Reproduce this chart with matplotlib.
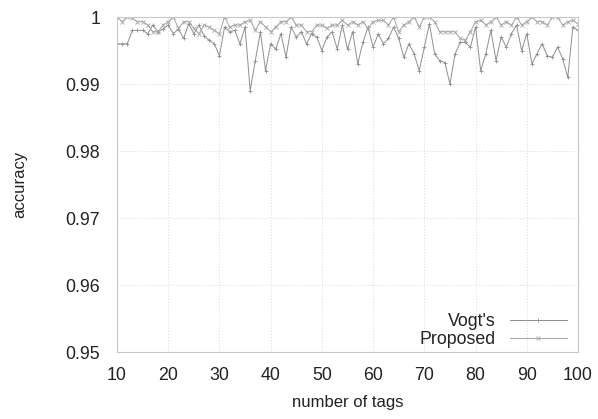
import numpy as np
import matplotlib
matplotlib.use("Agg")
import matplotlib.pyplot as plt

tags = list(range(10, 101))

vogt = [
    0.9960, 0.9960, 0.9960, 0.9980, 0.9980, 0.9980, 0.9975, 0.9988, 0.9978, 0.9982,
    0.9988, 0.9975, 0.9982, 0.9968, 0.9990, 0.9975, 0.9988, 0.9972, 0.9965, 0.9960,
    0.9942, 0.9985, 0.9978, 0.9980, 0.9960, 0.9985, 0.9890, 0.9935, 0.9978, 0.9920,
    0.9960, 0.9952, 0.9975, 0.9940, 0.9985, 0.9970, 0.9978, 0.9960, 0.9975, 0.9970,
    0.9950, 0.9970, 0.9978, 0.9952, 0.9988, 0.9952, 0.9978, 0.9930, 0.9962, 0.9985,
    0.9955, 0.9975, 0.9960, 0.9968, 0.9985, 0.9968, 0.9940, 0.9960, 0.9945, 0.9920,
    0.9955, 0.9990, 0.9945, 0.9935, 0.9932, 0.9900, 0.9945, 0.9962, 0.9962, 0.9955,
    0.9985, 0.9920, 0.9945, 0.9980, 0.9935, 0.9970, 0.9955, 0.9975, 0.9988, 0.9950,
    0.9975, 0.9930, 0.9945, 0.9960, 0.9942, 0.9940, 0.9955, 0.9938, 0.9910, 0.9985,
    0.9980,
]

proposed = [
    1.0000, 0.9993, 1.0000, 0.9998, 0.9993, 0.9993, 0.9988, 0.9978, 0.9978, 0.9988,
    0.9993, 1.0000, 0.9983, 0.9993, 0.9993, 0.9983, 0.9975, 0.9988, 0.9985, 0.9980,
    0.9975, 1.0000, 0.9985, 0.9988, 0.9988, 0.9993, 0.9995, 0.9980, 0.9993, 0.9985,
    0.9978, 0.9985, 0.9993, 0.9993, 1.0000, 0.9988, 0.9988, 0.9978, 0.9978, 0.9988,
    0.9988, 0.9983, 0.9988, 0.9988, 0.9995, 0.9988, 0.9993, 0.9988, 0.9993, 0.9983,
    0.9993, 0.9995, 0.9995, 0.9988, 1.0000, 0.9978, 0.9988, 0.9993, 1.0000, 0.9985,
    1.0000, 1.0000, 0.9993, 0.9978, 0.9978, 0.9978, 0.9978, 0.9968, 0.9965, 0.9978,
    0.9993, 0.9995, 0.9988, 0.9993, 1.0000, 0.9988, 0.9993, 0.9988, 1.0000, 0.9988,
    0.9993, 1.0000, 0.9993, 0.9993, 0.9988, 1.0000, 1.0000, 0.9988, 0.9993, 0.9995,
    0.9990,
]

x_ticks = [10, 20, 30, 40, 50, 60, 70, 80, 90, 100]
y_ticks = [0.95, 0.96, 0.97, 0.98, 0.99, 1.0]
y_labels = ["0.95", "0.96", "0.97", "0.98", "0.99", "1"]

plt.rcParams["font.family"] = ["Liberation Sans", "DejaVu Sans"]

fig = plt.figure(figsize=(5.98, 4.19), dpi=100)
ax = fig.add_axes([117 / 598, 1 - 352 / 419, (578 - 117) / 598, (352 - 17) / 419])

ax.plot(tags, vogt, color="#8f8f8f", lw=0.7, marker="+", ms=3, mew=0.6, label="Vogt's")
ax.plot(tags, proposed, color="#a5a5a5", lw=0.7, marker="x", ms=2.5, mew=0.6, label="Proposed")

ax.set_xlim(10, 100)
ax.set_ylim(0.95, 1.0)
ax.set_xticks(x_ticks)
ax.set_yticks(y_ticks)
ax.set_yticklabels(y_labels)
ax.tick_params(axis="y", labelsize=12.8, length=0, pad=12, colors="#222222")
ax.tick_params(axis="x", labelsize=12.8, length=0, pad=11, colors="#222222")
ax.grid(True, color="#d8d8d8", linestyle=(0, (1, 2)), linewidth=0.7)

for s in ax.spines.values():
    s.set_color("#c8c8c8")
    s.set_linewidth(0.8)

ax.set_xlabel("number of tags", fontsize=12, color="#222222", labelpad=8)
ax.set_ylabel("accuracy", fontsize=12, color="#222222", labelpad=28)

leg = ax.legend(loc="lower right", bbox_to_anchor=(1.01, -0.035), frameon=False,
                markerfirst=False, fontsize=12.8, handlelength=3.2,
                handletextpad=0.8, labelspacing=0.05)
for t in leg.get_texts():
    t.set_color("#222222")

fig.savefig("out.png", dpi=100)
